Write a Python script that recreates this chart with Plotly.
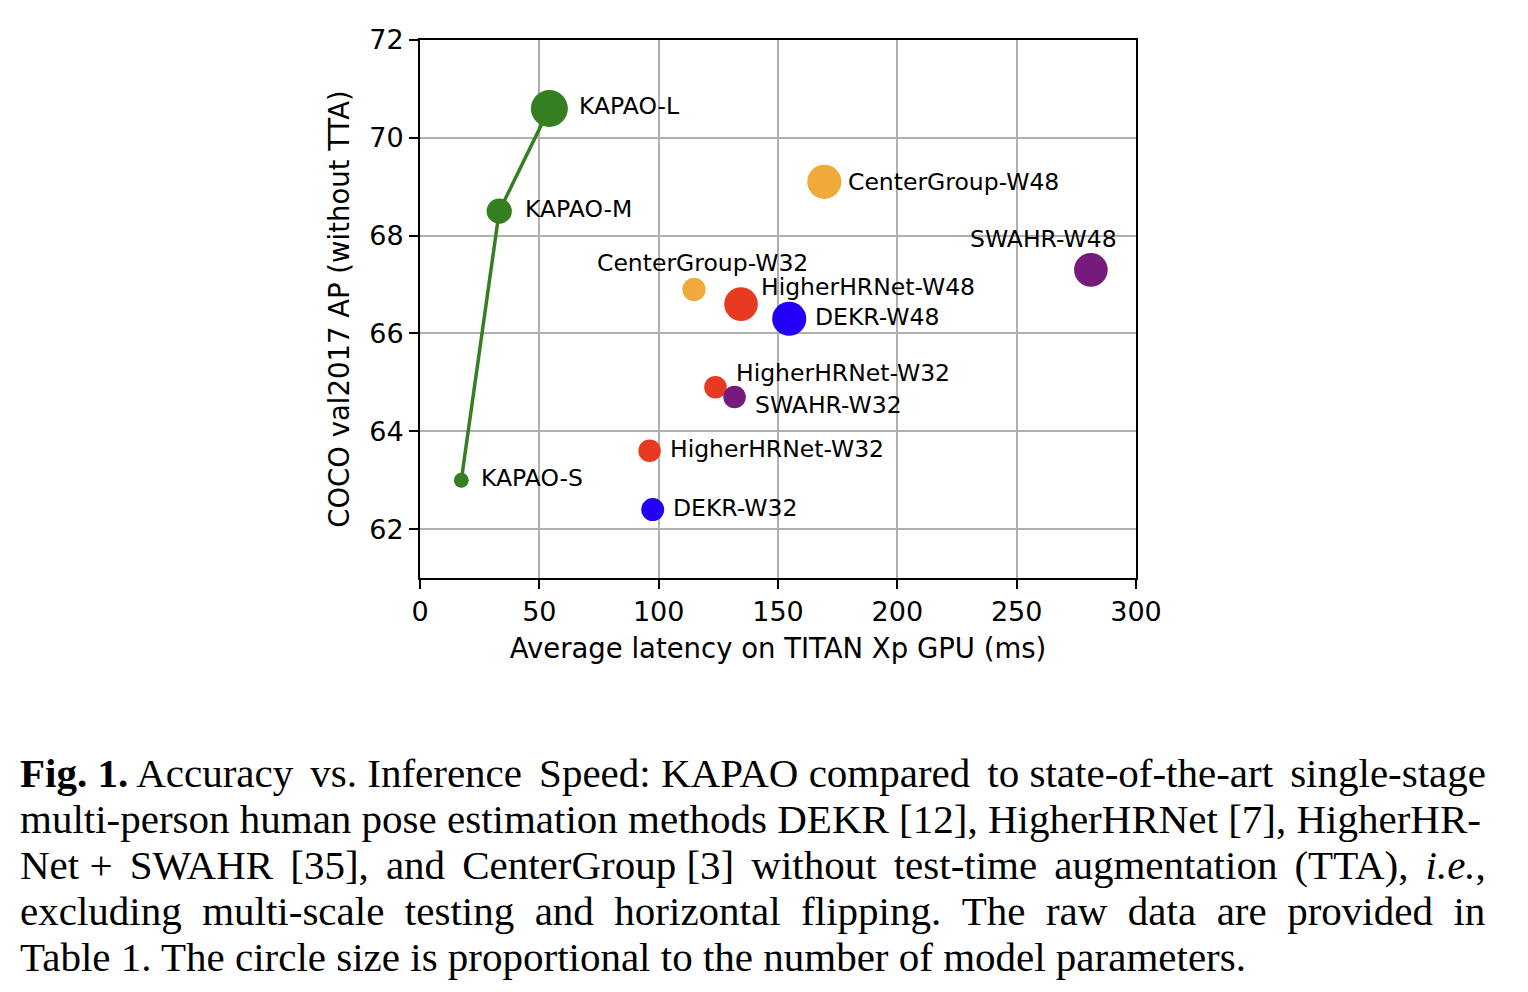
import plotly.graph_objects as go

# Latency (ms) on TITAN Xp, COCO val2017 AP, parameters (M) per model family
kapao_names = ["KAPAO-S", "KAPAO-M", "KAPAO-L"]
kapao_latency = [17.3, 33.2, 54.2]
kapao_ap = [63.0, 68.5, 70.6]
kapao_params = [12.6, 35.8, 77.0]

hhr_names = ["HigherHRNet-W32", "HigherHRNet-W32", "HigherHRNet-W48"]
hhr_latency = [96.2, 123.8, 134.5]
hhr_ap = [63.6, 64.9, 66.6]
hhr_params = [28.6, 28.6, 63.8]

dekr_names = ["DEKR-W32", "DEKR-W48"]
dekr_latency = [97.5, 154.7]
dekr_ap = [62.4, 66.3]
dekr_params = [29.6, 65.7]

swahr_names = ["SWAHR-W32", "SWAHR-W48"]
swahr_latency = [131.8, 281.1]
swahr_ap = [64.7, 67.3]
swahr_params = [28.6, 63.8]

cg_names = ["CenterGroup-W32", "CenterGroup-W48"]
cg_latency = [114.8, 169.4]
cg_ap = [66.9, 69.1]
cg_params = [30.3, 65.5]

caption_lines = [
    "<b>Fig. 1.</b> Accuracy vs. Inference Speed: KAPAO compared to state-of-the-art single-stage",
    "multi-person human pose estimation methods DEKR [12], HigherHRNet [7], HigherHR-",
    "Net + SWAHR [35], and CenterGroup [3] without test-time augmentation (TTA), <i>i.e.</i>,",
    "excluding multi-scale testing and horizontal flipping. The raw data are provided in",
    "Table 1. The circle size is proportional to the number of model parameters.",
]


def justify(line, n_extra, ch):
    # poor man's justification: spread n_extra extra space chars over the gaps
    words = line.split(" ")
    gaps = len(words) - 1
    out = words[0]
    for g in range(gaps):
        extra = ch if (g * n_extra) // gaps != ((g + 1) * n_extra) // gaps else ""
        out += " " + extra + words[g + 1]
    return out


caption_text = [
    justify(caption_lines[0], 4, "\u2006"),
    caption_lines[1],
    justify(caption_lines[2], 9, "\u2006"),
    caption_lines[3].replace(" ", " \u00a0"),
    caption_lines[4],
]

families = [
    (kapao_names, kapao_latency, kapao_ap, kapao_params, "#367E22"),
    (hhr_names, hhr_latency, hhr_ap, hhr_params, "#E83A20"),
    (dekr_names, dekr_latency, dekr_ap, dekr_params, "#2200F5"),
    (swahr_names, swahr_latency, swahr_ap, swahr_params, "#761A7C"),
    (cg_names, cg_latency, cg_ap, cg_params, "#F0AA3A"),
]

# label placement relative to the circle (px): xshift, yshift, xanchor
label_pos = {
    ("KAPAO-S", 0): (18, 2, "left"),
    ("KAPAO-M", 1): (24, 2, "left"),
    ("KAPAO-L", 2): (28, 2, "left"),
    ("HigherHRNet-W32", 0): (18, 2, "left"),
    ("HigherHRNet-W32", 1): (19, 14, "left"),
    ("HigherHRNet-W48", 2): (18, 17, "left"),
    ("DEKR-W32", 0): (18, 2, "left"),
    ("DEKR-W48", 1): (24, 2, "left"),
    ("SWAHR-W32", 0): (18, -8, "left"),
    ("SWAHR-W48", 1): (-47, 31, "center"),
    ("CenterGroup-W32", 0): (9, 26, "center"),
    ("CenterGroup-W48", 1): (22, 0, "left"),
}

fig = go.Figure()

# KAPAO line
fig.add_trace(go.Scatter(
    x=kapao_latency, y=kapao_ap, mode="lines",
    line=dict(color="#367E22", width=3.5), hoverinfo="skip", showlegend=False,
))

annotations = []
for names, lat, ap, params, color in families:
    fig.add_trace(go.Scatter(
        x=lat, y=ap, mode="markers", text=names,
        marker=dict(size=params, sizemode="area", sizeref=2 * 77.0 / 37.0 ** 2,
                    color=color, opacity=1, line=dict(width=0)),
        showlegend=False,
    ))
    for i, name in enumerate(names):
        xs, ys, anchor = label_pos[(name, i)]
        annotations.append(dict(
            x=lat[i], y=ap[i], xref="x", yref="y", text=name, showarrow=False,
            xanchor=anchor, yanchor="middle", xshift=xs, yshift=ys,
            font=dict(family="DejaVu Sans", size=23.5, color="black"),
        ))

# caption below the chart (page px converted to paper coords of the plot area)
for k, line in enumerate(caption_text):
    annotations.append(dict(
        x=(18 - 420) / 716, y=-(773 + 46 * k - 578) / 538,
        xref="paper", yref="paper", text=line, showarrow=False,
        xanchor="left", yanchor="middle", align="left",
        font=dict(family="Liberation Serif", size=41, color="black"),
    ))

axis_common = dict(
    showline=True, linecolor="black", linewidth=2, mirror=True,
    ticks="outside", ticklen=9, tickwidth=2, tickcolor="black",
    showgrid=True, gridcolor="#b0b0b0", gridwidth=2, zeroline=False,
    tickfont=dict(family="DejaVu Sans", size=27, color="black"),
)

# page body has an 8px margin, so the figure is 16px smaller than the window
fig.update_layout(
    width=1512, height=976,
    margin=dict(l=412, r=384, t=32, b=406),
    paper_bgcolor="white", plot_bgcolor="white",
    annotations=annotations,
    xaxis=dict(range=[0, 300], dtick=50, tick0=0,
               title=dict(text="Average latency on TITAN Xp GPU (ms)", standoff=12,
                          font=dict(family="DejaVu Sans", size=27.5, color="black")),
               **axis_common),
    yaxis=dict(range=[61, 72], dtick=2, tick0=62,
               title=dict(text="COCO val2017 AP (without TTA)", standoff=12,
                          font=dict(family="DejaVu Sans", size=27.5, color="black")),
               **axis_common),
)

fig.write_html("out.html")
